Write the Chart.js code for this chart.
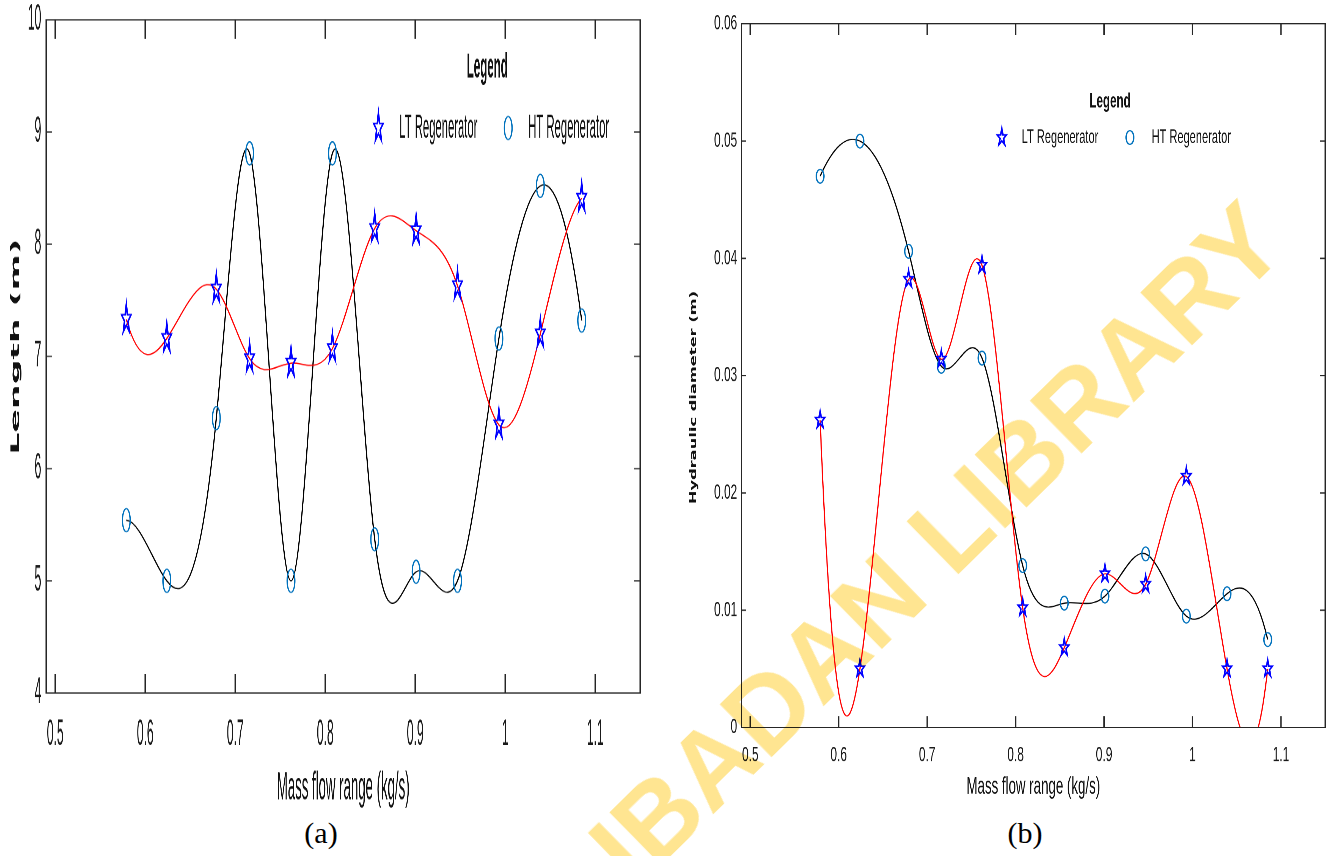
<!DOCTYPE html>
<html lang="en">
<head>
<meta charset="utf-8">
<title>Regenerator length and hydraulic diameter</title>
<script src="https://cdn.jsdelivr.net/npm/chart.js@4.4.1/dist/chart.umd.min.js"></script>
<style>
  html, body { margin: 0; padding: 0; background: #fff; }
  #page { position: relative; width: 1333px; height: 856px; overflow: hidden; background: #fff; }
  .panel { position: absolute; top: 0; transform-origin: 0 0; }
  /* both panels are drawn wide and short, then squeezed sideways like the printed figure */
  #panelA { left: 0; width: 1200px; height: 494px; transform: scale(0.55, 1.65); }
  #panelB { left: 670px; width: 947px; height: 652px; transform: scale(0.7, 1.25); }
  .caption { position: absolute; top: 818px; width: 80px; margin-left: -40px; text-align: center;
             font: 30px "Liberation Serif", "Times New Roman", serif; line-height: 30px; color: #000; }
  #mark { position: absolute; left: 937px; top: 544px; transform: translate(-50%, -50%) rotate(-44.4deg);
          font: bold 107px "Liberation Sans", Arial, sans-serif; line-height: 1; color: #ffe591;
          white-space: nowrap; mix-blend-mode: multiply; pointer-events: none; }
</style>
</head>
<body>
<div id="page">
  <div class="panel" id="panelA"><canvas id="lengthChart"></canvas></div>
  <div class="panel" id="panelB"><canvas id="diameterChart"></canvas></div>
  <div class="caption" style="left:321px">(a)</div>
  <div class="caption" style="left:1025px">(b)</div>
  <div id="mark">IBADAN LIBRARY</div>
</div>
<script>
const massFlow = [0.579, 0.624, 0.679, 0.716, 0.762, 0.808, 0.855, 0.901, 0.947, 0.993, 1.039, 1.085];

const lengthLT = [7.33, 7.16, 7.60, 6.98, 6.94, 7.07, 8.14, 8.12, 7.63, 6.39, 7.20, 8.41];
const lengthHT = [5.54, 5.00, 6.45, 8.81, 5.00, 8.81, 5.37, 5.08, 5.00, 7.16, 8.52, 7.32];

const diameterLT = [0.0262, 0.0050, 0.0382, 0.0314, 0.0394, 0.0102, 0.0068, 0.0131, 0.0122, 0.0214, 0.0050, 0.0050];
const diameterHT = [0.0470, 0.0500, 0.0406, 0.0308, 0.0315, 0.0138, 0.0106, 0.0112, 0.0148, 0.0095, 0.0114, 0.0075];

const seriesNames = ['LT Regenerator', 'HT Regenerator'];
const flowTicks = ['0.5', '0.6', '0.7', '0.8', '0.9', '1', '1.1'];
const lengthTicks = ['4', '5', '6', '7', '8', '9', '10'];
const diameterTicks = ['0', '0.01', '0.02', '0.03', '0.04', '0.05', '0.06'];

const flowTitle = 'Mass flow range (kg/s)';
const lengthTitle = 'Length (m)';
const diameterTitle = 'Hydraulic diameter (m)';

const SANS = '"Liberation Sans", Arial, sans-serif';
const proto = CanvasRenderingContext2D.prototype;

// slopes of a not-a-knot cubic spline at each knot
function splineSlopes(xs, ys) {
  const n = xs.length;
  const h = [];
  for (let i = 0; i < n - 1; i++) h.push(xs[i + 1] - xs[i]);
  const A = [];
  const b = [];
  for (let i = 0; i < n; i++) { A.push(new Array(n).fill(0)); b.push(0); }
  A[0][0] = -h[1]; A[0][1] = h[0] + h[1]; A[0][2] = -h[0];
  for (let i = 1; i < n - 1; i++) {
    A[i][i - 1] = h[i - 1];
    A[i][i] = 2 * (h[i - 1] + h[i]);
    A[i][i + 1] = h[i];
    b[i] = 6 * ((ys[i + 1] - ys[i]) / h[i] - (ys[i] - ys[i - 1]) / h[i - 1]);
  }
  A[n - 1][n - 3] = -h[n - 2]; A[n - 1][n - 2] = h[n - 3] + h[n - 2]; A[n - 1][n - 1] = -h[n - 3];

  for (let c = 0; c < n; c++) {
    let p = c;
    for (let r = c + 1; r < n; r++) if (Math.abs(A[r][c]) > Math.abs(A[p][c])) p = r;
    [A[c], A[p]] = [A[p], A[c]];
    [b[c], b[p]] = [b[p], b[c]];
    for (let r = c + 1; r < n; r++) {
      const f = A[r][c] / A[c][c];
      if (!f) continue;
      for (let q = c; q < n; q++) A[r][q] -= f * A[c][q];
      b[r] -= f * b[c];
    }
  }
  const M = new Array(n).fill(0);
  for (let r = n - 1; r >= 0; r--) {
    let s = b[r];
    for (let q = r + 1; q < n; q++) s -= A[r][q] * M[q];
    M[r] = s / A[r][r];
  }

  const m = [];
  for (let i = 0; i < n - 1; i++) m.push((ys[i + 1] - ys[i]) / h[i] - h[i] * (2 * M[i] + M[i + 1]) / 6);
  m.push((ys[n - 1] - ys[n - 2]) / h[n - 2] + h[n - 2] * (M[n - 2] + 2 * M[n - 1]) / 6);
  return m;
}

// stroke with the pen squeezed against the panel's css scale, so lines keep an even width
function evenStroke(ctx, k, path) {
  ctx.save();
  ctx.scale(k.x, k.y);
  if (path) {
    const p = new Path2D();
    p.addPath(path, new DOMMatrix().scale(1 / k.x, 1 / k.y));
    proto.stroke.call(ctx, p);
  } else {
    proto.stroke.call(ctx);
  }
  ctx.restore();
}

function pentagram(ctx, x, y, R) {
  const r = R * 0.382;
  ctx.beginPath();
  for (let i = 0; i < 10; i++) {
    const rad = i % 2 ? r : R;
    const a = -Math.PI / 2 + i * Math.PI / 5;
    ctx.lineTo(x + rad * Math.cos(a), y + rad * Math.sin(a));
  }
  ctx.closePath();
}

// fixed axis sizes, no extra room for overhanging labels
function pinSize(prop, size) {
  return (s) => {
    s[prop] = size;
    s.paddingTop = s.paddingBottom = s.paddingLeft = s.paddingRight = 0;
  };
}

function makePanel(canvasId, spec) {
  const k = { x: 1 / spec.scaleX, y: 1 / spec.scaleY };

  const evenPen = {
    id: 'evenPen',
    beforeDatasetsDraw(chart) {
      const ctx = chart.ctx;
      ctx.stroke = (path) => evenStroke(ctx, k, path);
    },
    afterDatasetsDraw(chart) {
      delete chart.ctx.stroke;
    }
  };

  // replace the default bezier handles with ones taken from the spline slopes
  const splineCurve = {
    id: 'splineCurve',
    beforeDatasetDraw(chart, args) {
      const line = args.meta.dataset;
      const pts = args.meta.data;
      const ds = chart.data.datasets[args.index];
      if (!line || pts.length < 4) return;
      if (line.updateControlPoints) line.updateControlPoints(chart.chartArea, 'x');
      line._pointsUpdated = true;
      const xs = ds.data.map((d) => d.x);
      const ys = ds.data.map((d) => d.y);
      const m = splineSlopes(xs, ys);
      const sx = chart.scales.x;
      const sy = chart.scales.y;
      for (let i = 0; i < pts.length; i++) {
        if (i > 0) {
          const h = (xs[i] - xs[i - 1]) / 3;
          pts[i].cp1x = sx.getPixelForValue(xs[i] - h);
          pts[i].cp1y = sy.getPixelForValue(ys[i] - m[i] * h);
        }
        if (i < pts.length - 1) {
          const h = (xs[i + 1] - xs[i]) / 3;
          pts[i].cp2x = sx.getPixelForValue(xs[i] + h);
          pts[i].cp2y = sy.getPixelForValue(ys[i] + m[i] * h);
        }
      }
      line._path = undefined;
    }
  };

  const starMarkers = {
    id: 'starMarkers',
    afterDatasetsDraw(chart) {
      const ctx = chart.ctx;
      chart.data.datasets.forEach((ds, i) => {
        if (ds.marker !== 'star') return;
        chart.getDatasetMeta(i).data.forEach((p) => {
          ctx.save();
          pentagram(ctx, p.x, p.y, spec.starRadius);
          ctx.strokeStyle = '#0000ff';
          ctx.lineWidth = 1.6;
          evenStroke(ctx, k);
          ctx.restore();
        });
      });
    }
  };

  // boxed axes with the tick marks pointing inwards on all four sides
  const frame = {
    id: 'frame',
    afterDraw(chart) {
      const { ctx, chartArea: a, scales: { x, y } } = chart;
      ctx.save();
      ctx.strokeStyle = '#262626';
      ctx.lineWidth = 1.4;
      ctx.beginPath();
      ctx.rect(a.left, a.top, a.right - a.left, a.bottom - a.top);
      x.ticks.forEach((t) => {
        const px = x.getPixelForValue(t.value);
        ctx.moveTo(px, a.bottom); ctx.lineTo(px, a.bottom - spec.xTickLen);
        ctx.moveTo(px, a.top); ctx.lineTo(px, a.top + spec.xTickLen);
      });
      y.ticks.forEach((t) => {
        const py = y.getPixelForValue(t.value);
        ctx.moveTo(a.left, py); ctx.lineTo(a.left + spec.yTickLen, py);
        ctx.moveTo(a.right, py); ctx.lineTo(a.right - spec.yTickLen, py);
      });
      evenStroke(ctx, k);
      ctx.restore();
    }
  };

  const legendBox = {
    id: 'legendBox',
    afterDraw(chart) {
      const L = spec.legend;
      const ctx = chart.ctx;
      ctx.save();
      ctx.fillStyle = '#111';
      ctx.textBaseline = 'middle';
      ctx.textAlign = 'center';
      ctx.font = `bold ${L.titleSize}px ${SANS}`;
      ctx.fillText('Legend', L.titleX, L.titleY);
      ctx.textAlign = 'left';
      ctx.font = `${L.size}px ${SANS}`;
      ctx.fillText(seriesNames[0], L.ltText, L.rowY);
      ctx.fillText(seriesNames[1], L.htText, L.rowY);
      pentagram(ctx, L.star, L.rowY, spec.starRadius);
      ctx.strokeStyle = '#0000ff';
      ctx.lineWidth = 1.6;
      evenStroke(ctx, k);
      ctx.beginPath();
      ctx.arc(L.circle, L.rowY, spec.circleRadius, 0, Math.PI * 2);
      ctx.strokeStyle = '#0072bd';
      ctx.lineWidth = 1.3;
      evenStroke(ctx, k);
      ctx.restore();
    }
  };

  const yTitle = {
    id: 'yTitle',
    afterDraw(chart) {
      const t = spec.yTitle;
      const ctx = chart.ctx;
      ctx.save();
      ctx.translate(t.x, t.y);
      ctx.rotate(-Math.PI / 2);
      ctx.fillStyle = '#111';
      ctx.font = t.font;
      ctx.textAlign = 'center';
      ctx.textBaseline = 'middle';
      ctx.fillText(t.text, 0, 0);
      ctx.restore();
    }
  };

  const tickFont = { family: SANS, size: spec.tickSize };

  return new Chart(document.getElementById(canvasId), {
    type: 'line',
    data: {
      datasets: [
        {
          label: seriesNames[0],
          data: massFlow.map((x, i) => ({ x, y: spec.lt[i] })),
          borderColor: '#ff0000',
          borderWidth: 1.2,
          tension: 0.4,
          capBezierPoints: false,
          pointRadius: 0,
          pointHoverRadius: 0,
          marker: 'star'
        },
        {
          label: seriesNames[1],
          data: massFlow.map((x, i) => ({ x, y: spec.ht[i] })),
          borderColor: '#000000',
          borderWidth: 1.2,
          tension: 0.4,
          capBezierPoints: false,
          pointStyle: 'circle',
          pointRadius: spec.circleRadius,
          pointHoverRadius: spec.circleRadius,
          pointBorderColor: '#0072bd',
          pointBorderWidth: 1.3,
          pointBackgroundColor: 'rgba(0,0,0,0)'
        }
      ]
    },
    options: {
      responsive: true,
      maintainAspectRatio: false,
      animation: false,
      devicePixelRatio: 2,
      events: [],
      layout: { autoPadding: false, padding: spec.padding },
      plugins: { legend: { display: false }, tooltip: { enabled: false } },
      scales: {
        x: {
          type: 'linear',
          min: 0.49,
          max: 1.15,
          bounds: 'data',
          grid: { display: false, drawTicks: false },
          border: { display: false },
          afterBuildTicks: (s) => { s.ticks = flowTicks.map((t) => ({ value: Number(t) })); },
          afterFit: pinSize('height', spec.xAxisHeight),
          ticks: {
            autoSkip: false,
            maxRotation: 0,
            padding: spec.xTickPad,
            color: '#1a1a1a',
            font: tickFont,
            callback: (v) => flowTicks.find((t) => Math.abs(Number(t) - v) < 1e-9)
          },
          title: {
            display: true,
            text: flowTitle,
            color: '#111',
            font: { family: SANS, size: spec.xTitleSize },
            padding: { top: 0, bottom: spec.xTitlePad }
          }
        },
        y: {
          type: 'linear',
          min: spec.yMin,
          max: spec.yMax,
          bounds: 'data',
          grid: { display: false, drawTicks: false },
          border: { display: false },
          afterBuildTicks: (s) => { s.ticks = spec.yTicks.map((t) => ({ value: Number(t) })); },
          afterFit: pinSize('width', spec.yAxisWidth),
          ticks: {
            autoSkip: false,
            padding: spec.yTickPad,
            color: '#1a1a1a',
            font: tickFont,
            callback: (v) => spec.yTicks.find((t) => Math.abs(Number(t) - v) < 1e-9)
          }
        }
      }
    },
    plugins: [evenPen, splineCurve, starMarkers, frame, legendBox, yTitle]
  });
}

makePanel('lengthChart', {
  scaleX: 0.55,
  scaleY: 1.65,
  lt: lengthLT,
  ht: lengthHT,
  yMin: 4,
  yMax: 10,
  yTicks: lengthTicks,
  padding: { top: 12, right: 36, bottom: 0, left: 0 },
  yAxisWidth: 84,
  xAxisHeight: 74,
  tickSize: 22,
  xTickPad: 12,
  yTickPad: 9,
  xTitleSize: 24,
  xTitlePad: 1.5,
  xTickLen: 11.5,
  yTickLen: 11,
  starRadius: 9,
  circleRadius: 7,
  yTitle: { text: lengthTitle, x: 29, y: 210, font: 'bold 21px "DejaVu Sans", sans-serif' },
  legend: { titleX: 886, titleY: 41, titleSize: 21, rowY: 77.6, size: 20.5, star: 688, ltText: 726, circle: 924, htText: 960.5 }
});

makePanel('diameterChart', {
  scaleX: 0.7,
  scaleY: 1.25,
  lt: diameterLT,
  ht: diameterHT,
  yMin: 0,
  yMax: 0.06,
  yTicks: diameterTicks,
  padding: { top: 19, right: 11, bottom: 0, left: 0 },
  yAxisWidth: 102,
  xAxisHeight: 70,
  tickSize: 17,
  xTickPad: 12,
  yTickPad: 6,
  xTitleSize: 19,
  xTitlePad: 10.6,
  xTickLen: 9,
  yTickLen: 7,
  starRadius: 7,
  circleRadius: 5.5,
  yTitle: { text: diameterTitle, x: 34, y: 318, font: 'bold 13px "DejaVu Sans", sans-serif' },
  legend: { titleX: 628.6, titleY: 81.3, titleSize: 16.6, rowY: 110, size: 15.8, star: 474, ltText: 502.4, circle: 657, htText: 688 }
});
</script>
</body>
</html>
